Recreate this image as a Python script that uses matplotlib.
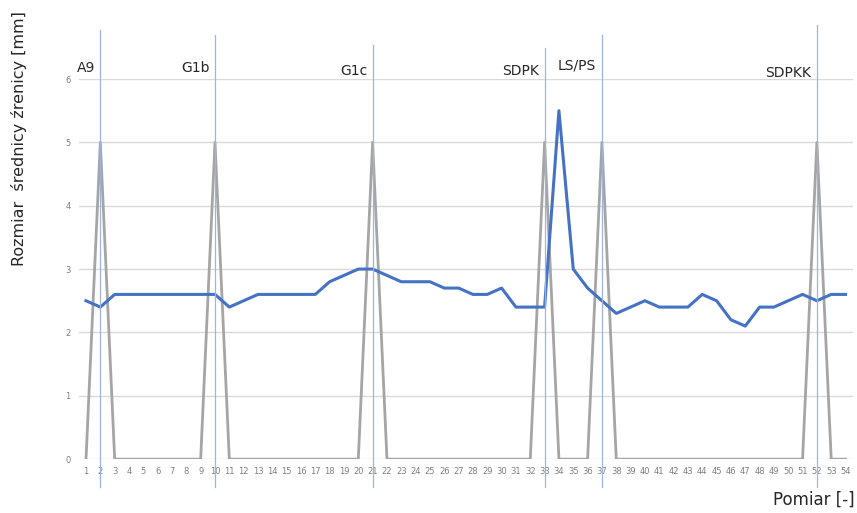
import matplotlib.pyplot as plt
from matplotlib.transforms import offset_copy

plt.rcParams.update({
    'font.family': 'DejaVu Sans',
})

# data
pomiar = list(range(1, 55))
pupil = [2.5, 2.4, 2.6, 2.6, 2.6, 2.6, 2.6, 2.6, 2.6, 2.6,
         2.4, 2.5, 2.6, 2.6, 2.6, 2.6, 2.6, 2.8, 2.9, 3.0,
         3.0, 2.9, 2.8, 2.8, 2.8, 2.7, 2.7, 2.6, 2.6, 2.7,
         2.4, 2.4, 2.4, 5.5, 3.0, 2.7, 2.5, 2.3, 2.4, 2.5,
         2.4, 2.4, 2.4, 2.6, 2.5, 2.2, 2.1, 2.4, 2.4, 2.5,
         2.6, 2.5, 2.6, 2.6]
event_x = [2, 10, 21, 33, 37, 52]
event_labels = ['A9', 'G1b', 'G1c', 'SDPK', 'LS/PS', 'SDPKK']
event_height = 5
signal = [event_height if p in event_x else 0 for p in pomiar]

# decorative extents of the hand-drawn marker lines (data units)
line_tops = [6.77, 6.69, 6.54, 6.49, 6.69, 6.85]
label_y = [6.17, 6.17, 6.12, 6.12, 6.22, 6.1]

fig = plt.figure(figsize=(8.57, 5.13), dpi=100)
ax = fig.add_axes([0.092, 0.105, 0.903, 0.741])

ax.set_xlim(0.5, 54.5)
ax.set_ylim(0, 6)
ax.set_yticks(range(0, 7))
ax.set_xticks(pomiar)
ax.grid(axis='y', color='#d9d9d9', linewidth=1.0)
ax.set_axisbelow(True)
for s in ax.spines.values():
    s.set_visible(False)
ax.tick_params(length=0, labelsize=6, labelcolor='#7f7f7f', pad=6)

ax.plot(pomiar, signal, color='#a5a5a5', linewidth=2.0, zorder=2)
ax.plot(pomiar, pupil, color='#4472c4', linewidth=2.2, zorder=3)

for x, top, lab, ly in zip(event_x, line_tops, event_labels, label_y):
    ax.plot([x, x], [-0.44, top], color='#9fb3de', linewidth=0.9,
            clip_on=False, zorder=4)
    tr = offset_copy(ax.transData, fig=fig, x=-4, y=0, units='points')
    ax.text(x, ly, lab, transform=tr, ha='right', va='center',
            fontsize=10, color='#262626')

fig.text(0.022, 0.729, 'Rozmiar  średnicy źrenicy [mm]', rotation=90,
         ha='center', va='center', fontsize=11.5, color='#262626')
fig.text(0.997, 0.025, 'Pomiar [-]', ha='right', va='center',
         fontsize=12, color='#262626')

fig.savefig('out.png', dpi=100)
